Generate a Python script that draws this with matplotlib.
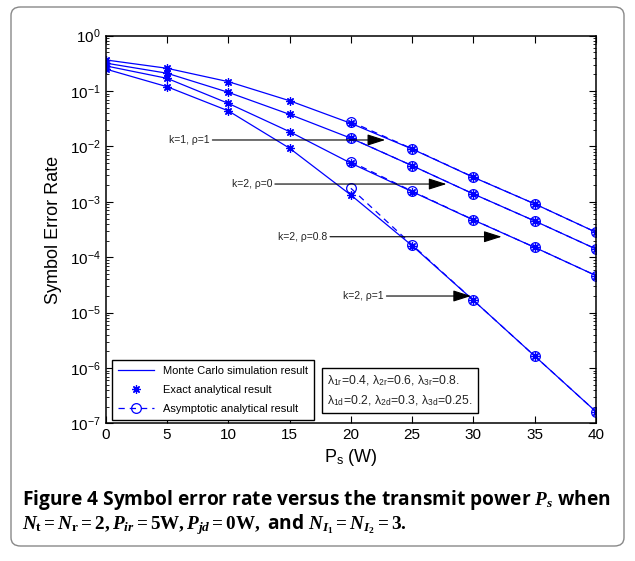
import numpy as np
import matplotlib
matplotlib.use('Agg')
import matplotlib.pyplot as plt
from matplotlib.patches import FancyBboxPatch
from matplotlib.ticker import LogLocator, NullFormatter

plt.rcParams['font.family'] = ['Liberation Sans', 'DejaVu Sans']
plt.rcParams['mathtext.fontset'] = 'custom'
plt.rcParams['mathtext.rm'] = 'Liberation Serif:bold'
plt.rcParams['mathtext.it'] = 'Liberation Serif:italic:bold'
plt.rcParams['mathtext.bf'] = 'Liberation Serif:bold'
plt.rcParams['mathtext.sf'] = 'Liberation Sans'

# --- data ---
power = [0, 5, 10, 15, 20, 25, 30, 35, 40]
power_asym = [20, 25, 30, 35, 40]

# Monte Carlo / exact analytical SER
ser_k1_rho1 = [0.365, 0.258, 0.148, 0.067, 0.0262, 0.0090, 0.00278, 0.00092, 0.000283]
ser_k2_rho0 = [0.32, 0.21, 0.095, 0.038, 0.0141, 0.0045, 0.00139, 0.000452, 0.000141]
ser_k2_rho08 = [0.285, 0.17, 0.060, 0.0185, 0.0050, 0.00153, 0.000471, 0.000151, 4.67e-5]
ser_k2_rho1 = [0.25, 0.12, 0.044, 0.0093, 0.00133, 0.000162, 1.67e-5, 1.65e-6, 1.63e-7]

# asymptotic analytical SER
asym_k1_rho1 = [0.028, 0.0091, 0.00280, 0.00092, 0.000283]
asym_k2_rho0 = [0.0142, 0.0045, 0.00139, 0.000452, 0.000141]
asym_k2_rho08 = [0.00532, 0.00156, 0.000475, 0.000151, 4.67e-5]
asym_k2_rho1 = [0.00176, 0.000168, 1.67e-5, 1.65e-6, 1.63e-7]

curve_labels = ['k=1, ρ=1', 'k=2, ρ=0', 'k=2, ρ=0.8', 'k=2, ρ=1']
# (text end x, arrow tip x, y) for each label
label_spots = [(8.7, 22.8, 0.0131), (13.8, 27.8, 0.0021),
               (18.3, 32.3, 2.35e-4), (22.9, 29.8, 2.0e-5)]

sims = [ser_k1_rho1, ser_k2_rho0, ser_k2_rho08, ser_k2_rho1]
asyms = [asym_k1_rho1, asym_k2_rho0, asym_k2_rho08, asym_k2_rho1]

blue = (0, 0, 1)
asterisk = (8, 2, 0)

fig = plt.figure(figsize=(6.35, 5.61), dpi=100)
ax = fig.add_axes([0.1665, 0.2451, 0.7721, 0.6913])

for i, (sim, asym) in enumerate(zip(sims, asyms)):
    ax.plot(power, sim, '-', color=blue, lw=0.9,
            label='Monte Carlo simulation result' if i == 0 else None)
    ax.plot(power, sim, ls='none', marker=asterisk, ms=6, mec=blue, mew=0.9,
            label='Exact analytical result' if i == 0 else None)
    ax.plot(power_asym, asym, '--', color=blue, lw=0.9, marker='o', ms=7,
            mfc='none', mec=blue, mew=0.9, dashes=(5, 4),
            label='Asymptotic analytical result' if i == 0 else None)

for txt, (xt, xa, y) in zip(curve_labels, label_spots):
    ax.annotate('', xy=(xa, y), xytext=(xt, y),
                arrowprops=dict(arrowstyle='-|>,head_length=1.1,head_width=0.35',
                                color='black', lw=0.8, shrinkA=0, shrinkB=0))
    ax.text(xt - 0.2, y, txt, ha='right', va='center', fontsize=7.5, color='#222222')

ax.set_yscale('log')
ax.set_xlim(0, 40)
ax.set_ylim(1e-7, 1)
ax.set_xticks(range(0, 41, 5))
ax.yaxis.set_major_locator(LogLocator(base=10, numticks=10))
ax.yaxis.set_minor_locator(LogLocator(base=10, subs=np.arange(2, 10), numticks=10))
ax.yaxis.set_minor_formatter(NullFormatter())
ax.tick_params(which='both', direction='in', top=True, right=True, labelsize=11)
ax.tick_params(which='major', length=5)
ax.tick_params(which='minor', length=2.5)
for s in ax.spines.values():
    s.set_linewidth(1.1)

ax.set_xlabel(r'P$_{\mathsf{s}}$ (W)', fontsize=13, labelpad=3)
ax.set_ylabel('Symbol Error Rate', fontsize=13, labelpad=6)

leg = ax.legend(loc='lower left', bbox_to_anchor=(0.013, 0.009), borderaxespad=0,
                fontsize=8, fancybox=False, edgecolor='black', framealpha=1,
                handlelength=3.2, borderpad=0.55, labelspacing=0.8)
leg.get_frame().set_linewidth(1.0)

lam_text = ('λ$_{\\mathsf{1r}}$=0.4, λ$_{\\mathsf{2r}}$=0.6, λ$_{\\mathsf{3r}}$=0.8.\n'
            'λ$_{\\mathsf{1d}}$=0.2, λ$_{\\mathsf{2d}}$=0.3, λ$_{\\mathsf{3d}}$=0.25.')
ax.text(0.452, 0.085, lam_text, transform=ax.transAxes, fontsize=8.8,
        va='center', ha='left', linespacing=1.45, color='#222222',
        bbox=dict(boxstyle='square,pad=0.45', fc='white', ec='black', lw=1.0))

# caption and frame
fig.patches.append(FancyBboxPatch((11 / 635, 15 / 561), 613 / 635, 539 / 561,
                                  boxstyle='round,pad=0,rounding_size=0.015',
                                  transform=fig.transFigure, fc='none',
                                  ec='#888888', lw=1.0))
fig.text(22 / 635, 1 - 500 / 561,
         r'Figure 4 Symbol error rate versus the transmit power $P_s$ when',
         fontsize=13.8, fontweight='bold', family=['Open Sans', 'DejaVu Sans'],
         va='center', ha='left')
fig.text(22 / 635, 1 - 525 / 561,
         r'$N_{\mathrm{t}} = N_{\mathrm{r}} = 2, P_{ir} = 5\mathrm{W},'
         r' P_{jd} = 0\mathrm{W},$ and $N_{I_1} = N_{I_2} = 3.$',
         fontsize=13.8, fontweight='bold', family=['Open Sans', 'DejaVu Sans'],
         va='center', ha='left')

fig.savefig('out.png', dpi=100)
